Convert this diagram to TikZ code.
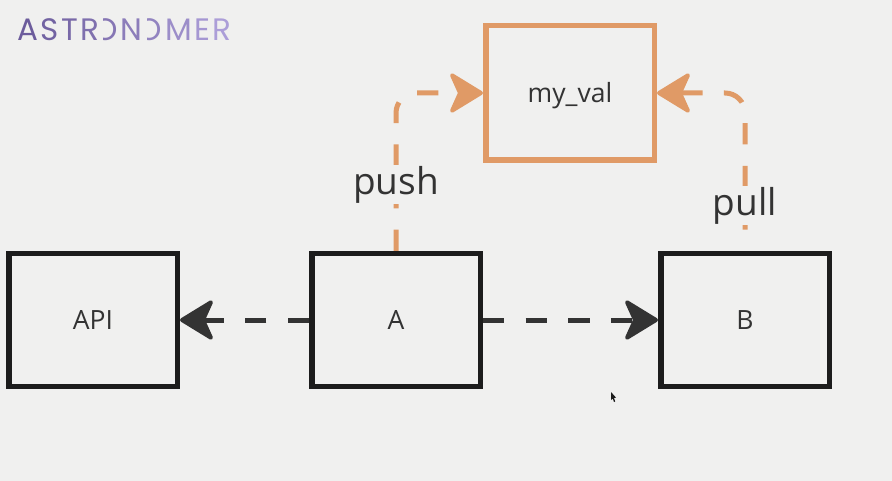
\documentclass[tikz,border=0pt]{standalone}
\usepackage{fontspec}
\setmainfont{Open Sans}
\newfontfamily\logofont{Poppins}
\usetikzlibrary{arrows.meta}
\definecolor{bgcolor}{RGB}{240,240,239}
\definecolor{boxcolor}{RGB}{28,28,28}
\definecolor{linkcolor}{RGB}{51,51,51}
\definecolor{xcomcolor}{RGB}{224,154,102}
\definecolor{logolow}{RGB}{108,92,156}
\definecolor{logohigh}{RGB}{172,158,216}
\newcommand{\logochar}[2]{\textcolor{logohigh!#1!logolow}{#2}\kern2.4pt}
\tikzset{
    logotext/.style={anchor=base west, inner sep=0pt, font=\logofont\fontsize{31}{31}\selectfont},
    taskbox/.style={draw=boxcolor, line width=5.5pt, minimum width=168.5pt, minimum height=132.5pt, text=linkcolor, font=\fontsize{26.5}{30}\selectfont},
    valbox/.style={taskbox, draw=xcomcolor, minimum height=134.5pt},
    link/.style={draw=linkcolor, line width=5pt, dash pattern=on 21.3pt off 21.3pt, -{Stealth[length=37pt, width=45pt, inset=10pt, line width=4pt, round]}},
    xcomlink/.style={link, draw=xcomcolor, rounded corners=20pt},
    xcomlabel/.style={fill=bgcolor, text=linkcolor, inner sep=1pt, font=\fontsize{37}{44}\selectfont}
}

\begin{document}
\begin{tikzpicture}[x=1pt, y=-1pt]
    \fill[bgcolor] (0,0) rectangle (892,481);

    % Logo
    \node[logotext] (logoa) at (17,41) {\logochar{0}{A}\logochar{10}{S}\logochar{20}{T}\logochar{30}{R}};
    \begin{scope}
        \clip (103,15) rectangle (122,45);
        \node[logotext, text=logohigh!40!logolow] (logob) at (93,41) {O};
    \end{scope}
    \node[logotext] (logoc) at (120,41) {\logochar{50}{N}};
    \begin{scope}
        \clip (147,15) rectangle (166,45);
        \node[logotext, text=logohigh!60!logolow] (logod) at (137,41) {O};
    \end{scope}
    \node[logotext] (logoe) at (165,41) {\logochar{75}{M}\logochar{90}{E}\logochar{100}{R}};

    % Tasks
    \node[taskbox] (api) at (93,320) {API};
    \node[taskbox] (a) at (396,320) {A};
    \node[taskbox] (b) at (745,320) {B};
    \node[valbox] (myval) at (570,93) {\raisebox{-9.5pt}[0pt][0pt]{my\_val}};

    % Dependencies
    \draw[link] (a.west) -- (api.east);
    \draw[link] (a.east) -- (b.west);

    % XCom
    \draw[xcomlink] (a.north) |- (myval.west);
    \draw[xcomlink, dash phase=21.3pt] (b.north) |- (myval.east);
    \node[xcomlabel] (push) at (396,185) {push};
    \node[xcomlabel] (pull) at (745,206) {pull};

    % Mouse pointer
    \fill[boxcolor] (611,392) -- (611,400) -- (612.8,398.6) -- (614,402) -- (615.2,401.4) -- (614,398) -- (616,397.6) -- cycle;
\end{tikzpicture}
\end{document}
